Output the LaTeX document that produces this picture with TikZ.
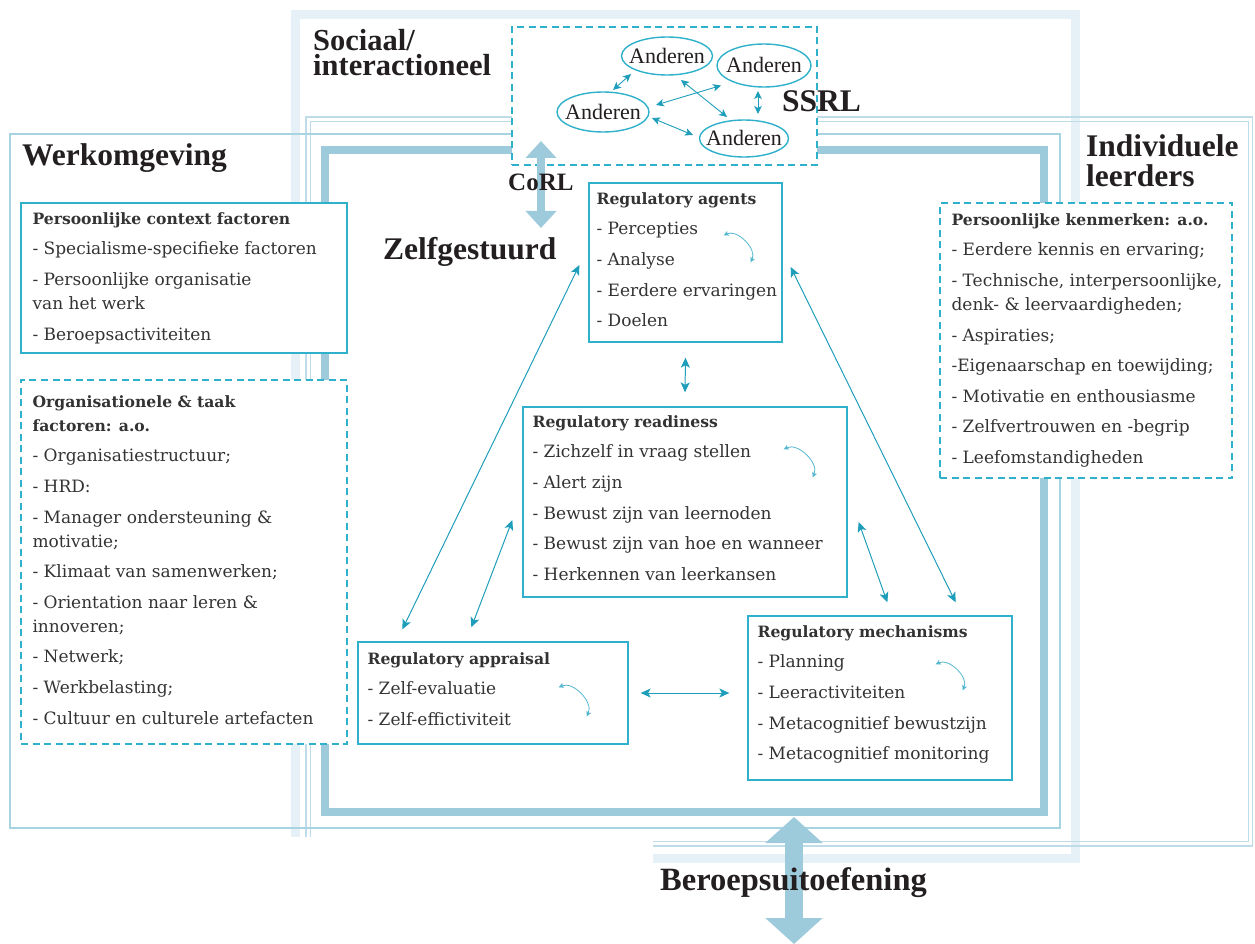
\documentclass[tikz,border=0pt]{standalone}
\usepackage{fontspec}
\setmainfont{DejaVu Serif}
\newfontfamily\headfont{Liberation Serif}
\usetikzlibrary{arrows.meta,calc,shapes.geometric}
\definecolor{boxc}{HTML}{2FB0CB}
\definecolor{arrc}{HTML}{1E9EBA}
\definecolor{curvc}{HTML}{55B8CF}
\definecolor{frA}{HTML}{E6F1F7}
\definecolor{frB}{HTML}{BEDDE8}
\definecolor{frC}{HTML}{A8D3E1}
\definecolor{frD}{HTML}{9DCBDB}
\definecolor{txtc}{HTML}{333333}
\definecolor{headc}{HTML}{231F20}
\newcommand\LN[1]{\hbox{#1}}
\newcommand\TT[1]{\hbox{\bfseries\fontsize{15.6}{24}\selectfont #1}}
\newcommand\IG{\vskip 6.6pt}
\newcommand\BT[1]{\vtop{\fontsize{17}{24}\selectfont\baselineskip=24pt\lineskiplimit=-100pt\lineskip=0pt #1}}
\newcommand\AND{\makebox[0pt]{\raisebox{-0.33em}[0pt][0pt]{Anderen}}}
\tikzset{
  box/.style={draw=boxc, line width=1.3pt, fill=white, rectangle, inner sep=0pt},
  dbox/.style={box, dash pattern=on 7pt off 4.5pt},
  txt/.style={anchor=base west, inner sep=0pt, text=txtc},
  head/.style={anchor=base west, inner sep=0pt, text=headc, font=\headfont\bfseries\fontsize{31.5}{31.5}\selectfont},
  anderen/.style={ellipse, draw=boxc, line width=1.4pt, fill=white, inner sep=0pt, text=headc, font=\headfont\fontsize{22}{22}\selectfont},
  sarr/.style={arrc, line width=0.9pt, {Stealth[length=8pt,width=7.5pt,inset=2pt]}-{Stealth[length=8pt,width=7.5pt,inset=2pt]}},
  larr/.style={arrc, line width=1pt, {Stealth[length=10pt,width=9pt,inset=2.5pt]}-{Stealth[length=10pt,width=9pt,inset=2.5pt]}},
  curv/.style={curvc, line width=0.8pt, {Stealth[length=5pt,width=5pt,inset=1pt]}-{Stealth[length=5pt,width=5pt,inset=1pt]}, bend left=70},
  bigarr/.style={frD, line width=8pt, {Triangle[width=30pt,length=17pt]}-{Triangle[width=30pt,length=17pt]}},
  hugearr/.style={frD, line width=18pt, {Triangle[width=56pt,length=26pt]}-{Triangle[width=56pt,length=26pt]}}
}
\begin{document}
\begin{tikzpicture}[x=1pt,y=-1pt]
\useasboundingbox (0,0) rectangle (1255,944);
% frames
\draw[frA, line width=9pt] (653,858) -- (1075,858) -- (1075,15) -- (295,15) -- (295,837);
\draw[frB, line width=1.2pt] (653,846) -- (1252.5,846) -- (1252.5,117) -- (306,117) -- (306,837);
\draw[frB, line width=1.2pt] (653,841.5) -- (1248.5,841.5) -- (1248.5,121.5) -- (310.5,121.5) -- (310.5,837);
\draw[frC, line width=1.6pt] (10,134) rectangle (1060,828);
\draw[frD, line width=8pt] (324.5,150) rectangle (1044,812);
% SSRL box
\node[dbox, minimum width=305pt, minimum height=138pt] (ssrlbox) at (664.5,96) {};
\node[anderen, minimum width=91pt, minimum height=38pt] (e1) at (667,56) {\AND};
\node[anderen, minimum width=94pt, minimum height=43pt] (e2) at (764,65.5) {\AND};
\node[anderen, minimum width=92pt, minimum height=40pt] (e3) at (603,112) {\AND};
\node[anderen, minimum width=89pt, minimum height=37pt] (e4) at (744,138.5) {\AND};
\draw[sarr] ($(e1.center)+(-36,18)$) -- ($(e3.center)+(10,-22)$);
\draw[sarr] ($(e3.center)+(53,-7)$) -- ($(e2.center)+(-43,20)$);
\draw[sarr] ($(e1.center)+(14,24)$) -- ($(e4.center)+(-17,-21.5)$);
\draw[sarr] ($(e3.center)+(49,6)$) -- ($(e4.center)+(-51,-3.5)$);
\draw[sarr] ($(e2.center)+(-6,25.5)$) -- ($(e4.center)+(14,-24.5)$);
% CoRL arrow
\coordinate (corlA) at (541,141);
\coordinate (corlB) at (541,228);
\draw[bigarr] (corlA) -- (corlB);
% boxes
\node[box, minimum width=326pt, minimum height=150pt] (ctx) at (184,278) {};
\node[dbox, minimum width=326pt, minimum height=364pt] (org) at (184,562) {};
\node[dbox, minimum width=292pt, minimum height=275pt] (ken) at (1086,340.5) {};
\node[box, minimum width=193pt, minimum height=159pt] (agents) at (685.5,262.5) {};
\node[box, minimum width=324pt, minimum height=190pt] (ready) at (685,502) {};
\node[box, minimum width=270pt, minimum height=102pt] (appr) at (493,693) {};
\node[box, minimum width=264pt, minimum height=164pt] (mech) at (880,698) {};
% box texts
\node[txt] (ctxT) at ($(ctx.north west)+(12,22)$) {\BT{%
\TT{Persoonlijke context factoren}\IG
\LN{- Specialisme-specifieke factoren}\IG
\LN{- Persoonlijke organisatie}
\LN{van het werk}\IG
\LN{- Beroepsactiviteiten}}};
\node[txt] (orgT) at ($(org.north west)+(12,28)$) {\BT{%
\TT{Organisationele \& taak}
\TT{factoren: a.o.}\IG
\LN{- Organisatiestructuur;}\IG
\LN{- HRD:}\IG
\LN{- Manager ondersteuning \&}
\LN{motivatie;}\IG
\LN{- Klimaat van samenwerken;}\IG
\LN{- Orientation naar leren \&}
\LN{innoveren;}\IG
\LN{- Netwerk;}\IG
\LN{- Werkbelasting;}\IG
\LN{- Cultuur en culturele artefacten}}};
\node[txt] (kenT) at ($(ken.north west)+(12,23)$) {\BT{%
\TT{Persoonlijke kenmerken: a.o.}\IG
\LN{- Eerdere kennis en ervaring;}\IG
\LN{- Technische, interpersoonlijke,}
\LN{denk- \& leervaardigheden;}\IG
\LN{- Aspiraties;}\IG
\LN{-Eigenaarschap en toewijding;}\IG
\LN{- Motivatie en enthousiasme}\IG
\LN{- Zelfvertrouwen en -begrip}\IG
\LN{- Leefomstandigheden}}};
\node[txt] (agentsT) at ($(agents.north west)+(8,22)$) {\BT{%
\TT{Regulatory agents}\IG
\LN{- Percepties}\IG
\LN{- Analyse}\IG
\LN{- Eerdere ervaringen}\IG
\LN{- Doelen}}};
\node[txt] (readyT) at ($(ready.north west)+(10,21)$) {\BT{%
\TT{Regulatory readiness}\IG
\LN{- Zichzelf in vraag stellen}\IG
\LN{- Alert zijn}\IG
\LN{- Bewust zijn van leernoden}\IG
\LN{- Bewust zijn van hoe en wanneer}\IG
\LN{- Herkennen van leerkansen}}};
\node[txt] (apprT) at ($(appr.north west)+(10,23)$) {\BT{%
\TT{Regulatory appraisal}\IG
\LN{- Zelf-evaluatie}\IG
\LN{- Zelf-effictiviteit}}};
\node[txt] (mechT) at ($(mech.north west)+(10,22)$) {\BT{%
\TT{Regulatory mechanisms}\IG
\LN{- Planning}\IG
\LN{- Leeractiviteiten}\IG
\LN{- Metacognitief bewustzijn}\IG
\LN{- Metacognitief monitoring}}};
% curved arrows
\draw[curv] ($(agents.north east)+(-59,53)$) to ($(agents.north east)+(-32,80)$);
\draw[curv] ($(ready.north east)+(-64,43)$) to ($(ready.north east)+(-35,71)$);
\draw[curv] ($(appr.north east)+(-70,46)$) to ($(appr.north east)+(-42,75)$);
\draw[curv] ($(mech.north east)+(-77,49)$) to ($(mech.north east)+(-50,75)$);
% connectors
\draw[larr] ($(agents.south)+(0,15)$) -- ($(ready.north)+(0,-14)$);
\draw[larr] ($(agents.west)+(-9,2.5)$) -- ($(appr.north west)+(45,-12)$);
\draw[larr] ($(ready.west)+(-10,18)$) -- ($(appr.north west)+(114,-14)$);
\draw[larr] ($(agents.east)+(8,4.5)$) -- ($(mech.north east)+(-57,-13)$);
\draw[larr] ($(ready.east)+(11,20)$) -- ($(mech.north west)+(140,-13)$);
\draw[larr] ($(appr.east)+(12,0)$) -- ($(mech.west)+(-18,-5)$);
% Beroepsuitoefening arrow
\coordinate (berA) at (794,817);
\coordinate (berB) at (794,944);
\draw[hugearr] (berA) -- (berB);
% headings
\node[head, font=\headfont\bfseries\fontsize{30.5}{30.5}\selectfont] (soc) at (313,51) {\vtop{\baselineskip=25pt\lineskiplimit=-100pt\lineskip=0pt\hbox{Sociaal/}\hbox{interactioneel}}};
\node[head] (werk) at (22,166) {Werkomgeving};
\node[head] (indiv) at (1086,157) {\vtop{\baselineskip=30pt\lineskiplimit=-100pt\lineskip=0pt\hbox{Individuele}\hbox{leerders}}};
\node[head] (ssrl) at (782,112) {SSRL};
\node[head] (zelf) at (383,259) {Zelfgestuurd};
\node[head, font=\headfont\bfseries\fontsize{25}{25}\selectfont] (corl) at (508,190) {CoRL};
\node[head, font=\headfont\bfseries\fontsize{32.5}{32.5}\selectfont] (beroep) at (660,890) {Beroepsuitoefening};
\end{tikzpicture}
\end{document}
